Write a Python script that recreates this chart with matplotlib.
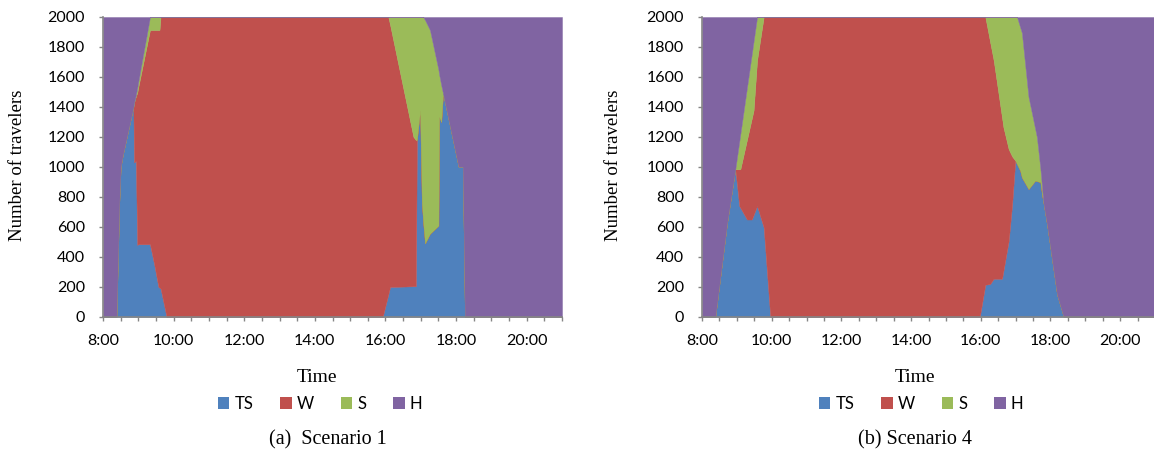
import numpy as np
import matplotlib.pyplot as plt
from matplotlib.patches import Patch

# Scenario 1 (left panel): time in hours, travelers in each state
t1 = [8.00, 8.38, 8.46, 8.50, 8.56, 8.86, 8.88, 8.93, 8.97, 9.00, 9.33, 9.45, 9.57, 9.60,
      9.63, 9.80, 15.92, 16.08, 16.13, 16.79, 16.86, 16.89, 16.98, 17.03, 17.07, 17.12,
      17.26, 17.50, 17.52, 17.58, 17.63, 18.07, 18.19, 18.25, 21.00]
ts1 = [0, 0, 760, 1000, 1080, 1400, 1030, 1040, 480, 485, 485, 350, 200, 195,
       190, 0, 0, 150, 200, 205, 205, 1180, 1380, 758, 624, 491,
       556, 609, 1336, 1300, 1491, 1002, 1002, 0, 0]
w1 = [0, 0, 0, 0, 0, 0, 400, 430, 1015, 1048, 1428, 1563, 1713, 1718,
      1810, 2000, 2000, 1850, 1749, 997, 975, 0, 0, 0, 0, 0,
      0, 0, 0, 0, 0, 0, 0, 0, 0]
s1 = [0, 0, 0, 0, 0, 0, 0, 10, 33, 37, 87, 87, 87, 87,
      0, 0, 0, 0, 51, 798, 820, 820, 620, 1242, 1376, 1489,
      1357, 1040, 282, 245, 0, 0, 0, 0, 0]
h1 = [2000, 2000, 1240, 1000, 920, 600, 570, 520, 472, 430, 0, 0, 0, 0,
      0, 0, 0, 0, 0, 0, 0, 0, 0, 0, 0, 20,
      87, 351, 382, 455, 509, 998, 998, 2000, 2000]

# Scenario 4 (right panel)
t4 = [8.00, 8.38, 8.72, 8.955, 9.07, 9.10, 9.29, 9.43, 9.48, 9.58, 9.77, 9.96,
      15.97, 16.13, 16.27, 16.37, 16.61, 16.65, 16.80, 16.90, 16.99, 17.04, 17.13,
      17.18, 17.37, 17.56, 17.61, 17.71, 17.76, 17.80, 17.90, 18.19, 18.38, 21.00]
ts4 = [0, 0, 628, 985, 740, 728, 650, 650, 680, 740, 597, 0,
       0, 215, 220, 255, 255, 308, 506, 752, 1043, 1019, 976,
       930, 853, 909, 906, 899, 810, 760, 619, 149, 0, 0]
w4 = [0, 0, 0, 0, 245, 257, 531, 675, 697, 971, 1403, 2000,
      2000, 1785, 1611, 1456, 1074, 957, 613, 319, 0, 0, 0,
      0, 0, 0, 0, 0, 0, 0, 0, 0, 0, 0]
s4 = [0, 0, 0, 0, 187, 235, 348, 431, 461, 289, 0, 0,
      0, 0, 169, 289, 671, 735, 881, 929, 957, 981, 956,
      964, 615, 347, 294, 92, 50, 0, 0, 0, 0, 0]
h4 = [2000, 2000, 1372, 1015, 828, 780, 471, 244, 162, 0, 0, 0,
      0, 0, 0, 0, 0, 0, 0, 0, 0, 0, 68,
      106, 532, 744, 800, 1009, 1140, 1240, 1381, 1851, 2000, 2000]

states = ['TS', 'W', 'S', 'H']
colors = ['#4F81BD', '#C0504D', '#9BBB59', '#8064A2']

W, H = 1154, 451
fig = plt.figure(figsize=(W / 100, H / 100), dpi=100)

sans = ['Lato', 'DejaVu Sans']
serif = ['Liberation Serif', 'DejaVu Serif']


def draw(ax, t, series):
    polys = ax.stackplot(t, *series, colors=colors)
    for p, c in zip(polys, colors):
        p.set_edgecolor(c)
        p.set_linewidth(0.3)
    ax.set_xlim(8, 21)
    ax.set_ylim(0, 2000)
    xt = np.arange(8, 21.01, 0.5)
    ax.set_xticks(xt)
    ax.set_xticklabels([f'{int(x)}:00' if x % 2 == 0 and x < 21 else '' for x in xt])
    ax.set_yticks(range(0, 2001, 200))
    for side in ['top', 'right']:
        ax.spines[side].set_visible(False)
    for side in ['left', 'bottom']:
        ax.spines[side].set_color('#868686')
        ax.spines[side].set_linewidth(1.2)
    ax.tick_params(direction='out', length=3, width=1, color='#868686')
    ax.tick_params(axis='y', pad=10)
    ax.tick_params(axis='x', pad=9)
    for lab in ax.get_xticklabels() + ax.get_yticklabels():
        lab.set_family(sans)
        lab.set_fontsize(11.5)


ax1 = fig.add_axes([103 / W, (H - 317) / H, 459 / W, 300 / H])
draw(ax1, t1, [ts1, w1, s1, h1])
ax2 = fig.add_axes([702 / W, (H - 317) / H, 453 / W, 300 / H])
draw(ax2, t4, [ts4, w4, s4, h4])

handles = [Patch(facecolor=c, label=s) for c, s in zip(colors, states)]
for cx, ylx, tx, cap, capx in [(320, 18, 317, '(a)  Scenario 1', 328),
                               (921, 613, 915, '(b) Scenario 4', 915)]:
    fig.text(ylx / W, 1 - 165 / H, 'Number of travelers', rotation=90,
             ha='center', va='center', family=serif, fontsize=13.5)
    fig.text(tx / W, 1 - 378 / H, 'Time', ha='center', va='center',
             family=serif, fontsize=14)
    fig.text(capx / W, 1 - 440 / H, cap, ha='center', va='center',
             family=serif, fontsize=14.5)
    fig.legend(handles=handles, loc='center', bbox_to_anchor=(cx / W, 1 - 404 / H),
               ncol=4, frameon=False, handlelength=0.7, handleheight=0.7,
               handletextpad=0.3, columnspacing=1.6,
               prop={'family': sans, 'size': 12})

fig.savefig('out.png', dpi=100)
